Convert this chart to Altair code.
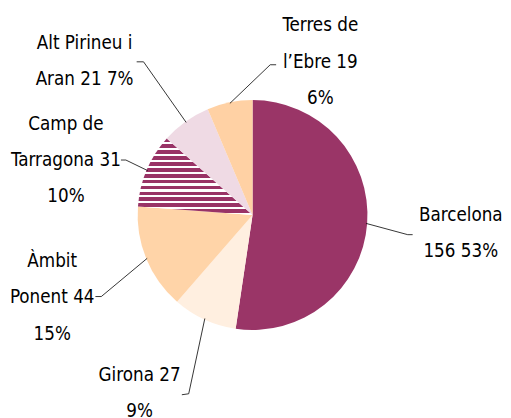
import math
import altair as alt
import pandas as pd

# ---- data ----
categories = ["Barcelona", "Girona", "Àmbit Ponent", "Camp de Tarragona",
              "Alt Pirineu i Aran", "Terres de l'Ebre"]
values = [156, 27, 44, 31, 21, 19]
labels = ["Barcelona\n156 53%", "Girona 27\n9%", "Àmbit\nPonent 44\n15%",
          "Camp de\nTarragona 31\n10%", "Alt Pirineu i\nAran 21 7%",
          "Terres de\nl’Ebre 19\n6%"]

# ---- style / layout ----
MAGENTA = "#993366"
colors = ["#9A3567", "#FFEFE0", "#FFD4A8", "#C2809F", "#EFDAE4", "#FFD1A4"]
W, H = 495, 402
CX, CY, R = 249, 207, 117          # pie centre / radius inside the view
FONT = "DejaVu Sans Condensed, DejaVu Sans"
# first-line centre of each label (view px)
label_pos = [(461, 207), (134, 370), (45, 254), (59, 114), (78, 32), (318, 14)]
# leader: elbow point and tick end (view px)
elbow = [(407, 227), (184, 389), (95, 290), (120, 151), (138, 51), (267, 54)]
tick_end = [(412, 227), (177, 390), (89, 290), (115, 151), (131, 51), (273, 54)]

# horizontal stripes for Camp de Tarragona (gradient with hard stops)
n_stripes, frac = 13, 0.62
stops = []
for k in range(n_stripes):
    a = k / n_stripes
    m = (k + frac) / n_stripes
    b = (k + 1) / n_stripes
    stops += [{"offset": a, "color": MAGENTA}, {"offset": m, "color": MAGENTA},
              {"offset": m, "color": "#FFFFFF"}, {"offset": b, "color": "#FFFFFF"}]
stripes = {"gradient": "linear", "x1": 0, "y1": 0, "x2": 0, "y2": 1, "stops": stops}

pie_df = pd.DataFrame({"cat": categories, "value": values,
                       "order": list(range(len(categories)))})

# edge point of every slice, derived from the values
tot = sum(values)
cum = 0
rows = []
for i, v in enumerate(values):
    mid = (cum + v / 2) / tot * 2 * math.pi
    cum += v
    ex, ey = CX + (R - 1) * math.sin(mid), CY - (R - 1) * math.cos(mid)
    rows.append({"cat": categories[i], "label": labels[i],
                 "lx": label_pos[i][0], "ly": label_pos[i][1],
                 "ex": ex, "ey": ey,
                 "bx": elbow[i][0], "by": elbow[i][1],
                 "tx": tick_end[i][0], "ty": tick_end[i][1]})
lab_df = pd.DataFrame(rows)

xs = alt.Scale(domain=[0, W], nice=False, zero=False)
ys = alt.Scale(domain=[H, 0], nice=False, zero=False)

pie = alt.Chart(pie_df).mark_arc(radius=R).encode(
    theta=alt.Theta("value:Q", stack=True),
    order=alt.Order("order:Q"),
    color=alt.condition(
        "datum.cat == 'Camp de Tarragona'",
        alt.value(stripes),
        alt.Color("cat:N", scale=alt.Scale(domain=categories, range=colors), legend=None)),
    x=alt.value(CX), y=alt.value(CY),
)

base = alt.Chart(lab_df)
diag = base.mark_rule(color="black", strokeWidth=0.8).encode(
    x=alt.X("ex:Q", scale=xs, axis=None), y=alt.Y("ey:Q", scale=ys, axis=None),
    x2="bx:Q", y2="by:Q")
tick = base.mark_rule(color="black", strokeWidth=0.8).encode(
    x=alt.X("bx:Q", scale=xs, axis=None), y=alt.Y("by:Q", scale=ys, axis=None),
    x2="tx:Q", y2="ty:Q")
text = base.mark_text(font=FONT, fontSize=19, lineBreak="\n", lineHeight=37,
                      align="center", baseline="middle", color="black").encode(
    x=alt.X("lx:Q", scale=xs, axis=None), y=alt.Y("ly:Q", scale=ys, axis=None),
    text="label:N")

chart = alt.layer(pie, diag, tick, text).properties(
    width=W, height=H, padding=0
).configure_view(stroke=None)

chart.save("out.html", embed_options={"renderer": "svg", "actions": False})
